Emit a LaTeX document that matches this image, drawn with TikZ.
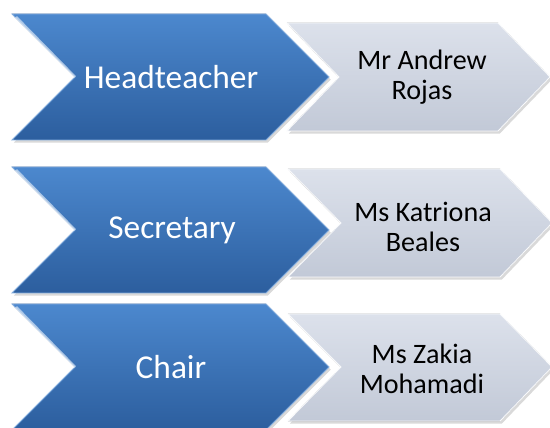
\documentclass[tikz,border=0pt]{standalone}
\usepackage{fontspec}
\setmainfont{Carlito}
\usetikzlibrary{shadows}

\definecolor{roletop}{RGB}{76,136,206}
\definecolor{rolebot}{RGB}{44,94,158}
\definecolor{nametop}{RGB}{220,225,235}
\definecolor{namebot}{RGB}{194,201,215}

\tikzset{
  rolechev/.style={top color=roletop, bottom color=rolebot, draw=roletop!70!white, line width=0.5pt,
    drop shadow={opacity=0.3, shadow xshift=1pt, shadow yshift=-1.5pt}},
  namechev/.style={top color=nametop, bottom color=namebot, draw=white!80!nametop, line width=0.5pt,
    drop shadow={opacity=0.3, shadow xshift=1pt, shadow yshift=-1.5pt}},
  glare/.style={white, opacity=0.55, line width=1.5pt},
  roletext/.style={text=white, font=\fontsize{19}{22}\selectfont},
  nametext/.style={text=black, align=center, font=\fontsize{16}{17}\selectfont}
}

\begin{document}
\begin{tikzpicture}[x=0.02cm, y=-0.02cm]
  \useasboundingbox (0,0) rectangle (550,428);

  % Grey chevrons
  \filldraw[namechev] (287,23) -- (498,23) -- (550,77) -- (498,131) -- (287,131) -- (339,77) -- cycle;
  \filldraw[namechev] (288,169) -- (500,169) -- (552,223) -- (500,277) -- (288,277) -- (341,223) -- cycle;
  \filldraw[namechev] (288,314) -- (500,314) -- (552,367) -- (500,421) -- (288,421) -- (341,367) -- cycle;

  % Blue chevrons
  \filldraw[rolechev] (12,14) -- (266,14) -- (329,77) -- (266,140) -- (12,140) -- (75,77) -- cycle;
  \filldraw[rolechev] (12,167) -- (266,167) -- (329,230) -- (266,293) -- (12,293) -- (75,230) -- cycle;
  \filldraw[rolechev] (12,304) -- (266,304) -- (329,367) -- (266,430) -- (12,430) -- (75,367) -- cycle;
  \draw[glare] (16,17) -- (75,77);
  \draw[glare] (16,170) -- (75,230);
  \draw[glare] (16,307) -- (75,367);

  % Labels
  \node[roletext] (head) at (171,77) {Headteacher};
  \node[nametext] (headname) at (422,77) {Mr Andrew\\Rojas};
  \node[roletext] (sec) at (172,230) {Secretary};
  \node[nametext] (secname) at (423,227) {Ms Katriona\\Beales};
  \node[roletext] (chair) at (171,367) {Chair};
  \node[nametext] (chairname) at (422,369) {Ms Zakia\\Mohamadi};
\end{tikzpicture}
\end{document}
